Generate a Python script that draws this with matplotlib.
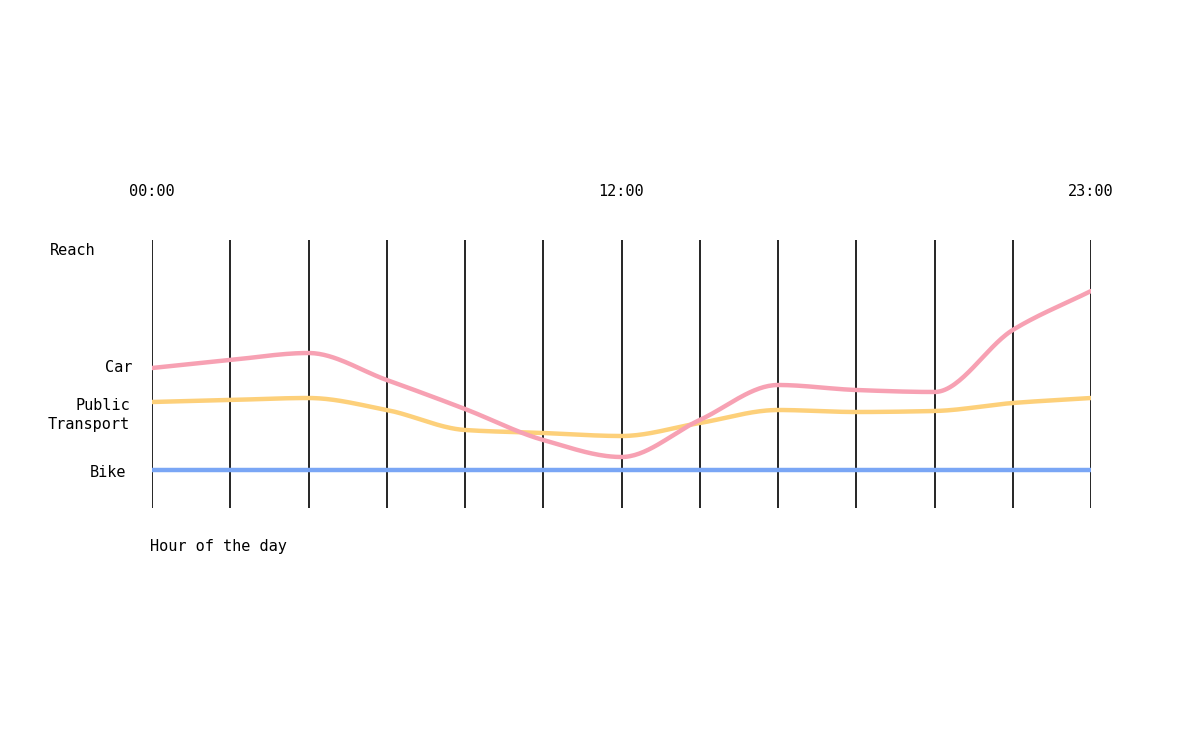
import matplotlib
matplotlib.use("Agg")
import matplotlib.pyplot as plt
import numpy as np

hours_idx = list(range(13))
tick_labels = {0: "00:00", 6: "12:00", 12: "23:00"}
car = [102, 110, 117, 90, 61, 30, 13, 50, 85, 80, 78, 140, 179]
public = [68, 70, 72, 60, 40, 37, 34, 47, 60, 58, 59, 67, 72]
bike = [0] * 13

def monotone(x, y, n=400):
    x = np.asarray(x, float); y = np.asarray(y, float)
    h = np.diff(x); d = np.diff(y) / h
    m = np.zeros_like(y)
    m[0], m[-1] = d[0], d[-1]
    for i in range(1, len(y) - 1):
        if d[i-1] * d[i] <= 0:
            m[i] = 0
        else:
            m[i] = 3 * (h[i-1] + h[i]) / ((2*h[i] + h[i-1]) / d[i-1] + (h[i] + 2*h[i-1]) / d[i])
    xs = np.linspace(x[0], x[-1], n)
    idx = np.clip(np.searchsorted(x, xs) - 1, 0, len(x) - 2)
    t = (xs - x[idx]) / h[idx]
    h00 = 2*t**3 - 3*t**2 + 1; h10 = t**3 - 2*t**2 + t
    h01 = -2*t**3 + 3*t**2; h11 = t**3 - t**2
    ys = h00*y[idx] + h10*h[idx]*m[idx] + h01*y[idx+1] + h11*h[idx]*m[idx+1]
    return xs, ys

fig = plt.figure(figsize=(12, 7.32), dpi=100)
W, H = 1200, 732
ax = fig.add_axes([152/W, 1 - 508/H, (1091-152)/W, (508-240)/H])
ax.set_xlim(0, 12)
ax.set_ylim(-38, 230)
ax.axis("off")
for i in hours_idx:
    ax.axvline(i, color="black", lw=1.2, zorder=1)

for vals, col in [(bike, "#7aa6f5"), (public, "#fdd07a"), (car, "#f7a1b3")]:
    xs, ys = monotone(hours_idx, vals)
    ax.plot(xs, ys, color=col, lw=3.2, solid_capstyle="round", zorder=3)

mono = "DejaVu Sans Mono"
fs = 11
for i, lab in tick_labels.items():
    fig.text((152 + i*(1091-152)/12)/W, 1 - 191/H, lab, ha="center", va="center", family=mono, fontsize=fs)
fig.text(50/W, 1 - 250/H, "Reach", ha="left", va="center", family=mono, fontsize=fs)
fig.text(132/W, 1 - 368/H, "Car", ha="right", va="center", family=mono, fontsize=fs)
fig.text(130/W, 1 - 415/H, "Public\nTransport", ha="right", va="center", family=mono, fontsize=fs, linespacing=1.4)
fig.text(126/W, 1 - 472/H, "Bike", ha="right", va="center", family=mono, fontsize=fs)
fig.text(150/W, 1 - 546/H, "Hour of the day", ha="left", va="center", family=mono, fontsize=fs)

fig.savefig("out.png", dpi=100)
